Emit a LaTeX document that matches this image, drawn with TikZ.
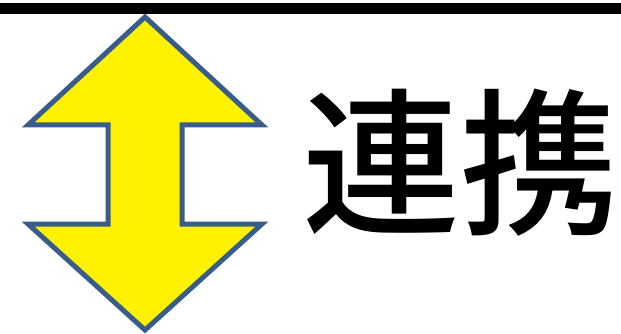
\documentclass[tikz,border=0pt]{standalone}
\usepackage{fontspec}
\newfontfamily\cjk{Noto Sans CJK JP}[UprightFont={* Medium}]
\definecolor{arrowline}{HTML}{385D8A}
\begin{document}
\begin{tikzpicture}[x=1pt,y=-1pt,
  bar/.style={fill=black},
  dblarrow/.style={fill=yellow,draw=arrowline,line width=5pt,line join=miter},
  label/.style={font=\cjk\fontsize{158}{160}\selectfont,inner sep=0pt}]
\useasboundingbox (0,0) rectangle (621,334);
\fill[bar] (0,3) rectangle (621,14);
\draw[dblarrow] (145,17) -- (28,125) -- (108,125) -- (108,224) -- (28,224) -- (145,330)
  -- (262,224) -- (182,224) -- (182,125) -- (262,125) -- cycle;
\node[label] (txt) at (460,163) {連携};
\end{tikzpicture}
\end{document}
